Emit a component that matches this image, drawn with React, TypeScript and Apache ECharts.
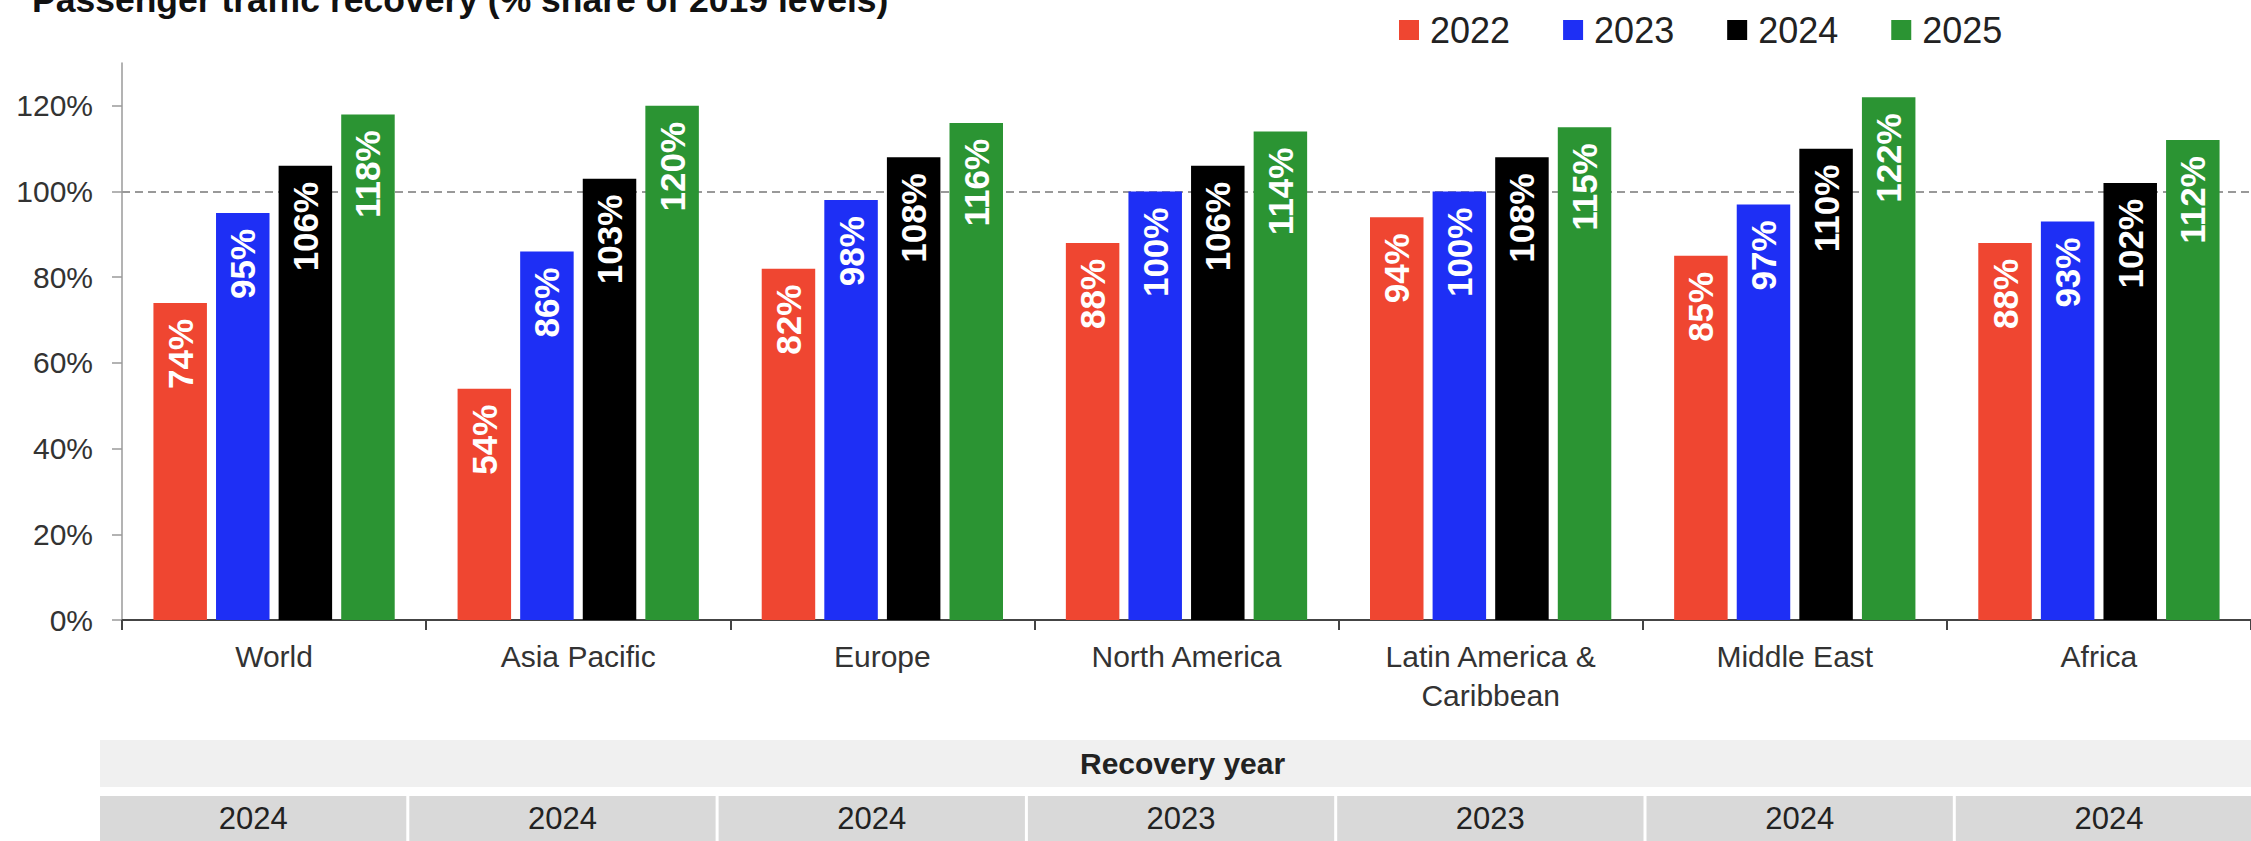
import React, { useEffect, useRef } from "react";
import * as echarts from "echarts";

const categories = [
  "World",
  "Asia Pacific",
  "Europe",
  "North America",
  "Latin America &\nCaribbean",
  "Middle East",
  "Africa",
];
const years = ["2022", "2023", "2024", "2025"];
const v2022 = [74, 54, 82, 88, 94, 85, 88];
const v2023 = [95, 86, 98, 100, 100, 97, 93];
const v2024 = [106, 103, 108, 106, 108, 110, 102];
const v2025 = [118, 120, 116, 114, 115, 122, 112];
const recoveryYears = ["2024", "2024", "2024", "2023", "2023", "2024", "2024"];
const yTicks = [0, 20, 40, 60, 80, 100, 120];
const referenceLevel = 100;
const titleText = "Passenger traffic recovery (% share of 2019 levels)";
const tableHeader = "Recovery year";

const colors = ["#EF4631", "#1E2FF5", "#000000", "#2B9433"];
const FONT = '"Liberation Sans", Arial, sans-serif';

export default function App() {
  const ref = useRef<HTMLDivElement>(null);

  useEffect(() => {
    if (!ref.current) return;
    const chart = echarts.init(ref.current, undefined, { renderer: "svg" });
    const seriesValues = [v2022, v2023, v2024, v2025];

    const tableLeft = 100;
    const colW = 309.3;
    const headerTop = 740;
    const headerH = 47;
    const rowTop = 796;
    const rowH = 50;
    const tableW = colW * recoveryYears.length;

    const graphics: any[] = [
      {
        type: "text",
        x: 32,
        y: -18,
        silent: true,
        style: {
          text: titleText,
          font: `bold 35.5px ${FONT}`,
          fill: "#111111",
          verticalAlign: "top",
        },
      },
      {
        type: "rect",
        silent: true,
        shape: { x: tableLeft, y: headerTop, width: tableW, height: headerH },
        style: { fill: "#F0F0F0" },
      },
      {
        type: "text",
        silent: true,
        x: tableLeft + tableW / 2,
        y: headerTop + headerH / 2,
        style: {
          text: tableHeader,
          font: `bold 30px ${FONT}`,
          fill: "#222222",
          align: "center",
          verticalAlign: "middle",
        },
      },
    ];
    recoveryYears.forEach((yr, i) => {
      const x = tableLeft + i * colW;
      graphics.push({
        type: "rect",
        silent: true,
        shape: { x, y: rowTop, width: colW - 3, height: rowH },
        style: { fill: "#D9D9D9" },
      });
      graphics.push({
        type: "text",
        silent: true,
        x: x + (colW - 3) / 2,
        y: rowTop + 22,
        style: {
          text: yr,
          font: `31px ${FONT}`,
          fill: "#222222",
          align: "center",
          verticalAlign: "middle",
        },
      });
    });

    const barSeries = years.map((y, i) => ({
      name: y,
      type: "bar",
      data: seriesValues[i],
      barWidth: 53.5,
      barGap: "17%",
      itemStyle: { color: colors[i] },
      z: 3,
      label: {
        show: true,
        position: "insideTop",
        distance: 16,
        rotate: 90,
        align: "right",
        verticalAlign: "middle",
        formatter: "{c}%",
        color: "#FFFFFF",
        fontFamily: FONT,
        fontWeight: "bold",
        fontSize: 35,
      },
    }));

    chart.setOption({
      animation: false,
      backgroundColor: "#FFFFFF",
      textStyle: { fontFamily: FONT },
      color: colors,
      legend: {
        data: years,
        left: 1399,
        top: 12,
        itemWidth: 20,
        itemHeight: 20,
        itemGap: 53,
        icon: "rect",
        padding: 0,
        textStyle: {
          fontSize: 36,
          color: "#222222",
          fontFamily: FONT,
          padding: [0, 0, 0, 6],
        },
      },
      grid: { left: 122, right: -17, top: 63, bottom: 221, containLabel: false },
      xAxis: {
        type: "category",
        data: categories,
        boundaryGap: true,
        axisLine: { show: true, lineStyle: { color: "#444444", width: 2 } },
        axisTick: { show: true, length: 10, lineStyle: { color: "#444444", width: 2 } },
        axisLabel: {
          fontSize: 30,
          color: "#333333",
          margin: 17,
          lineHeight: 39,
          fontFamily: FONT,
          interval: 0,
        },
        splitLine: { show: false },
      },
      yAxis: {
        type: "value",
        min: 0,
        max: 130,
        interval: 10,
        axisLine: { show: true, lineStyle: { color: "#9A9A9A", width: 1.5 } },
        axisTick: {
          show: true,
          length: 10,
          customValues: yTicks,
          lineStyle: { color: "#9A9A9A", width: 1.5 },
        },
        axisLabel: {
          customValues: yTicks,
          formatter: "{value}%",
          fontSize: 30,
          color: "#333333",
          margin: 29,
          fontFamily: FONT,
        },
        splitLine: { show: false },
      },
      series: [
        {
          name: "ref",
          type: "line",
          data: [],
          z: 1,
          silent: true,
          markLine: {
            z: 1,
            silent: true,
            symbol: "none",
            label: { show: false },
            lineStyle: { color: "#999999", type: [8, 5], width: 2 },
            data: [{ yAxis: referenceLevel }],
          },
        },
        ...barSeries,
      ],
      graphic: graphics,
    });

    return () => chart.dispose();
  }, []);

  return (
    <div
      ref={ref}
      style={{ position: "absolute", left: 0, top: 0, width: 2251, height: 841 }}
    />
  );
}
